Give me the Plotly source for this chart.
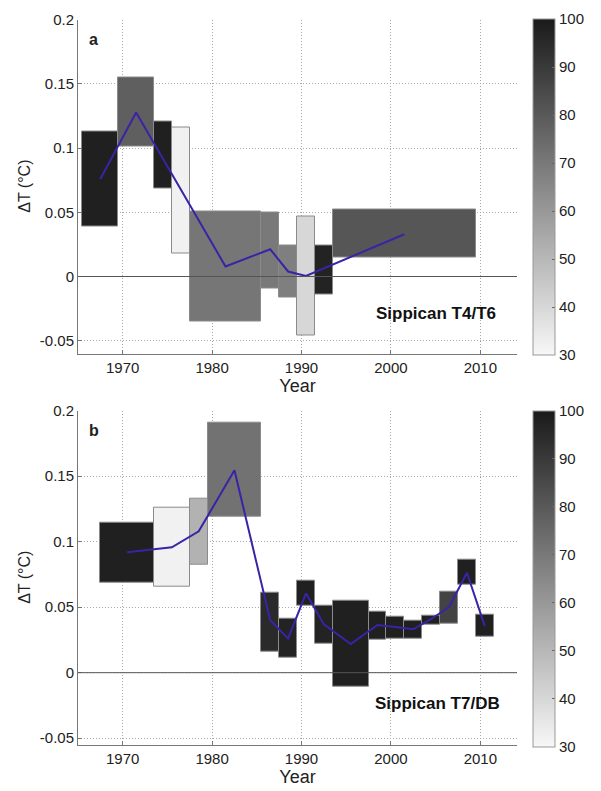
import plotly.graph_objects as go

# ---------------- data ----------------
# Panel a: Sippican T4/T6
a_left   = [1965.5, 1969.5, 1973.5, 1975.5, 1977.5, 1985.5, 1987.5, 1989.5, 1991.5, 1993.5]
a_right  = [1969.5, 1973.5, 1975.5, 1977.5, 1985.5, 1987.5, 1989.5, 1991.5, 1993.5, 2009.5]
a_top    = [0.113, 0.155, 0.1205, 0.116, 0.0505, 0.050, 0.0238, 0.0464, 0.0241, 0.0518]
a_bottom = [0.0386, 0.101, 0.0687, 0.0181, -0.0352, -0.0093, -0.016, -0.0456, -0.0137, 0.0148]
a_pct    = [98, 78, 98, 32, 71, 70, 68, 40, 97, 81]
a_line_x = [1967.5, 1971.5, 1981.5, 1986.5, 1988.5, 1990.5, 2001.5]
a_line_y = [0.0759, 0.1277, 0.0078, 0.0212, 0.0039, 0.0005, 0.0329]

# Panel b: Sippican T7/DB
b_left   = [1967.5, 1973.5, 1977.5, 1979.5, 1985.5, 1987.5, 1989.5, 1991.5, 1993.5,
            1997.5, 1999.5, 2001.5, 2003.5, 2005.5, 2007.5, 2009.5]
b_right  = [1973.5, 1977.5, 1979.5, 1985.5, 1987.5, 1989.5, 1991.5, 1993.5, 1997.5,
            1999.5, 2001.5, 2003.5, 2005.5, 2007.5, 2009.5, 2011.5]
b_top    = [0.1148, 0.126, 0.1326, 0.1906, 0.0613, 0.0412, 0.070, 0.0509, 0.0547,
            0.0468, 0.0428, 0.0394, 0.0435, 0.0621, 0.086, 0.044]
b_bottom = [0.069, 0.0654, 0.0827, 0.1188, 0.0158, 0.0115, 0.0509, 0.0219, -0.011,
            0.0254, 0.0262, 0.0262, 0.0366, 0.0374, 0.0669, 0.0272]
b_pct    = [98, 32, 52, 72, 95, 97, 98, 97, 98, 98, 98, 98, 98, 87, 98, 98]
b_line_x = [1970.5, 1975.5, 1978.5, 1982.5, 1986.5, 1988.5, 1990.5, 1992.5, 1995.5,
            1998.5, 2000.5, 2002.5, 2004.5, 2006.5, 2008.5, 2010.5]
b_line_y = [0.0919, 0.0957, 0.1079, 0.1545, 0.040, 0.0262, 0.0606, 0.0369, 0.0219,
            0.0364, 0.0349, 0.0331, 0.041, 0.0501, 0.0763, 0.0356]

x_ticks = [1970, 1980, 1990, 2000, 2010]
y_ticks = [-0.05, 0, 0.05, 0.1, 0.15, 0.2]
y_tick_text = ["-0.05", "0", "0.05", "0.1", "0.15", "0.2"]
cb_ticks = [30, 40, 50, 60, 70, 80, 90, 100]
x_range = [1965, 2014.1]
a_y_range = [-0.0603, 0.2]
b_y_range = [-0.0552, 0.2]

colorscale = [[0, "#f7f7f7"], [1, "#1a1a1a"]]
font_family = "Liberation Sans, Arial, sans-serif"

fig = go.Figure()


def add_panel(left, right, top, bottom, pct, lx, ly, xa, ya, cax):
    mids = [(l + r) / 2 for l, r in zip(left, right)]
    widths = [r - l for l, r in zip(left, right)]
    heights = [t - b for t, b in zip(top, bottom)]
    fig.add_trace(go.Bar(
        x=mids, y=heights, base=bottom, width=widths,
        marker=dict(color=pct, coloraxis=cax,
                    line=dict(color="#8a8a8a", width=1)),
        xaxis=xa, yaxis=ya, showlegend=False, hoverinfo="skip"))
    fig.add_trace(go.Scatter(
        x=lx, y=ly, mode="lines", line=dict(color="#3b22a6", width=2),
        xaxis=xa, yaxis=ya, showlegend=False, hoverinfo="skip"))


add_panel(a_left, a_right, a_top, a_bottom, a_pct, a_line_x, a_line_y, "x", "y", "coloraxis")
add_panel(b_left, b_right, b_top, b_bottom, b_pct, b_line_x, b_line_y, "x2", "y2", "coloraxis2")

W, H = 601, 791
x_dom = [78 / W, 517 / W]
a_dom = [1 - 354 / H, 1 - 19.5 / H]
b_dom = [1 - 745 / H, 1 - 410.7 / H]

axis_common = dict(
    showgrid=True, gridcolor="#a8a8a8", griddash="1px,2px", gridwidth=1,
    showline=True, linecolor="#777777", linewidth=1,
    ticks="inside", ticklen=4, tickcolor="#777777",
    zeroline=False, tickfont=dict(size=15, color="#222222"),
    automargin=False,
)

cb_common = dict(thickness=22, lenmode="fraction",
                 outlinecolor="#999999", outlinewidth=1,
                 tickvals=cb_ticks, ticks="inside", ticklen=3,
                 tickcolor="#666666", tickfont=dict(size=15, color="#222222"),
                 xpad=0, ypad=0)

fig.update_layout(
    width=W, height=H, margin=dict(l=0, r=0, t=0, b=0, autoexpand=False),
    paper_bgcolor="white", plot_bgcolor="white",
    font=dict(family=font_family, size=15, color="#222222"),
    barmode="overlay", bargap=0,
    xaxis=dict(domain=x_dom, range=x_range, tickvals=x_ticks, anchor="y",
               title=dict(text="Year", standoff=4), **axis_common),
    yaxis=dict(domain=a_dom, range=a_y_range, tickvals=y_ticks, ticktext=y_tick_text,
               anchor="x", **axis_common),
    xaxis2=dict(domain=x_dom, range=x_range, tickvals=x_ticks, anchor="y2",
                title=dict(text="Year", standoff=4), **axis_common),
    yaxis2=dict(domain=b_dom, range=b_y_range, tickvals=y_ticks, ticktext=y_tick_text,
                anchor="x2", **axis_common),
    coloraxis=dict(colorscale=colorscale, cmin=30, cmax=100,
                   colorbar=dict(x=533 / W, xanchor="left", y=1 - 19 / H, yanchor="top",
                                 len=336 / H, **cb_common)),
    coloraxis2=dict(colorscale=colorscale, cmin=30, cmax=100,
                    colorbar=dict(x=533 / W, xanchor="left", y=1 - 410.7 / H, yanchor="top",
                                  len=335.5 / H, **cb_common)),
)

# zero reference lines drawn above the boxes
for xr, yr in [("x domain", "y"), ("x2 domain", "y2")]:
    fig.add_shape(type="line", xref=xr, yref=yr, x0=0, x1=1, y0=0, y1=0,
                  line=dict(color="#555555", width=1), layer="above")

# y-axis titles
for yr in ["y domain", "y2 domain"]:
    fig.add_annotation(text="ΔT (°C)", xref="paper", yref=yr, x=25 / W, y=0.5,
                       xanchor="center", yanchor="middle", textangle=-90,
                       showarrow=False, font=dict(size=16, color="#222222"))

# panel labels
fig.add_annotation(text="<b>a</b>", xref="x domain", yref="y domain", x=0.02, y=0.94,
                   xanchor="left", yanchor="middle", showarrow=False, font=dict(size=16))
fig.add_annotation(text="<b>b</b>", xref="x2 domain", yref="y2 domain", x=0.02, y=0.94,
                   xanchor="left", yanchor="middle", showarrow=False, font=dict(size=16))
fig.add_annotation(text="<b>Sippican T4/T6</b>", xref="x domain", yref="y domain",
                   x=0.957, y=0.122, xanchor="right", yanchor="middle", showarrow=False,
                   font=dict(size=17, color="#111111"))
fig.add_annotation(text="<b>Sippican T7/DB</b>", xref="x2 domain", yref="y2 domain",
                   x=0.966, y=0.124, xanchor="right", yanchor="middle", showarrow=False,
                   font=dict(size=17, color="#111111"))

fig.write_html("out.html")
